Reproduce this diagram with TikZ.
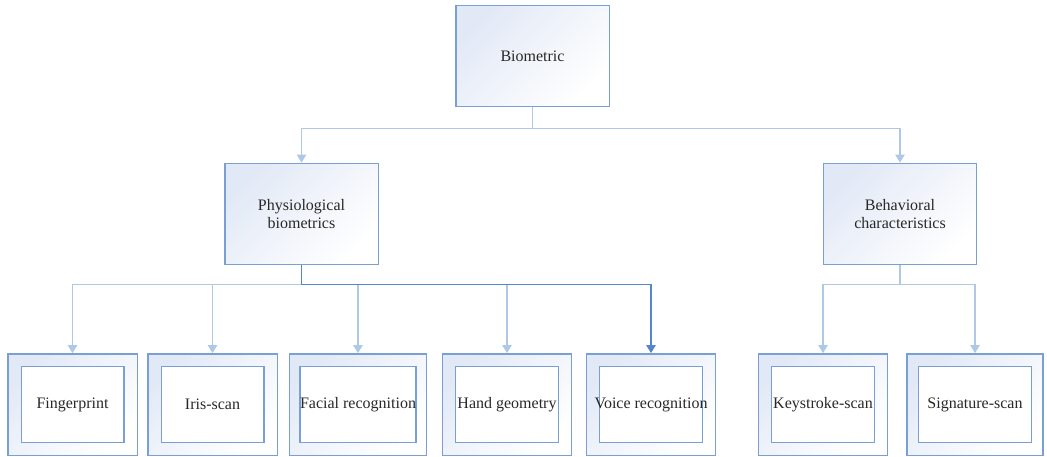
\documentclass[tikz,border=0pt]{standalone}
\usepackage{fontspec}
\setmainfont{Liberation Serif}
\usetikzlibrary{positioning,arrows.meta}
\definecolor{boxblue}{RGB}{120,160,212}
\definecolor{boxfill}{RGB}{226,233,246}
\definecolor{linelight}{RGB}{176,200,232}
\definecolor{linedark}{RGB}{84,134,204}
\definecolor{textgray}{RGB}{40,40,40}
\tikzstyle{topbox} = [rectangle, draw=boxblue, line width=1pt, top color=boxfill, bottom color=white, shading angle=45, minimum width=115pt, minimum height=76pt, align=center, text=textgray, font=\fontsize{12}{14}\selectfont]
\tikzstyle{outerbox} = [rectangle, draw=boxblue, line width=1pt, top color=boxfill, bottom color=white, shading angle=45, minimum width=97pt, minimum height=76pt]
\tikzstyle{innerbox} = [rectangle, draw=boxblue, line width=1pt, fill=white, minimum width=77pt, minimum height=57pt, inner sep=0pt, text=textgray, font=\fontsize{12}{14}\selectfont]
\tikzstyle{arrow} = [draw=linelight, line width=1pt, -{Triangle[width=7pt,length=6pt]}]
\tikzstyle{darkarrow} = [draw=linedark, line width=1pt, -{Triangle[width=7pt,length=6pt]}]

\begin{document}
\begin{tikzpicture}[x=0.75pt,y=-0.75pt]
	\useasboundingbox (0,0) rectangle (1047,457);
	% upper levels
	\node[topbox] (bio) at (532.5,56) {Biometric};
	\node[topbox] (phys) at (301.5,214) {Physiological\\biometrics};
	\node[topbox] (beh) at (900,214) {Behavioral\\characteristics};
	% lower level
	\node[outerbox] (fp) at (72.5,404.5) {};
	\node[outerbox] (iris) at (212.5,404.5) {};
	\node[outerbox, minimum width=103pt] (face) at (358,404.5) {};
	\node[outerbox] (hand) at (507,404.5) {};
	\node[outerbox] (voice) at (651,404.5) {};
	\node[outerbox] (key) at (823,404.5) {};
	\node[outerbox, minimum width=102pt] (sig) at (975,404.5) {};
	\node[innerbox] (fpin) at (fp) {Fingerprint};
	\node[innerbox] (irisin) at (iris) {Iris-scan};
	\node[innerbox, minimum width=85pt] (facein) at (face) {Facial recognition};
	\node[innerbox] (handin) at (hand) {Hand geometry};
	\node[innerbox] (voicein) at (voice) {};
	\node[text=textgray, font=\fontsize{12}{14}\selectfont] (voicetext) at (voice) {Voice recognition};
	\node[innerbox] (keyin) at (key) {Keystroke-scan};
	\node[innerbox, minimum width=85pt] (sigin) at (sig) {Signature-scan};
	% connectors
	\draw[arrow] (bio.south) -- ++(0,21) -| (phys.north);
	\draw[arrow] (bio.south) -- ++(0,21) -| (beh.north);
	\foreach \n in {fp,iris,face,hand}
	\draw[arrow] (phys.south) -- ++(0,19) -| (\n.north);
	\draw[darkarrow] (phys.south) -- ++(0,19) -| (voice.north);
	\foreach \n in {key,sig}
	\draw[arrow] (beh.south) -- ++(0,19) -| (\n.north);
\end{tikzpicture}
\end{document}
